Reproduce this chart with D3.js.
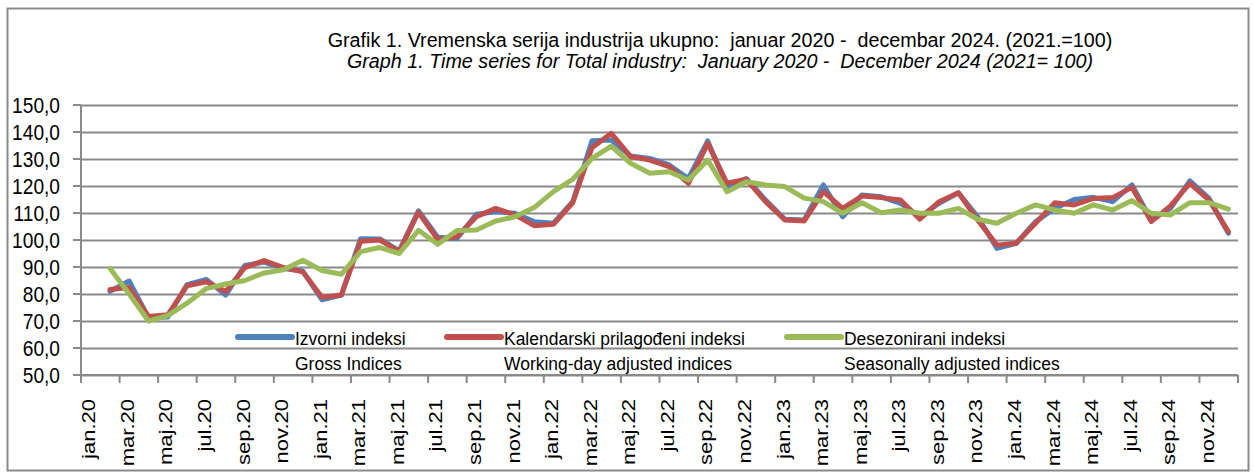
<!DOCTYPE html>
<html>
<head>
<meta charset="utf-8">
<script src="https://cdn.jsdelivr.net/npm/d3@7"></script>
<style>
  body { margin: 0; background: #fff; }
  svg text { font-family: "Liberation Sans", Arial, sans-serif; fill: #000; white-space: pre; }
</style>
</head>
<body>
<svg id="chart" width="1253" height="472"></svg>
<script>
// month labels jan.20 .. dec.24
const monthNames = ['jan', 'feb', 'mar', 'apr', 'maj', 'jun', 'jul', 'avg', 'sep', 'okt', 'nov', 'dec'];
const years = ['20', '21', '22', '23', '24'];
const months = years.flatMap(y => monthNames.map(m => m + '.' + y));

// Izvorni indeksi / Gross indices
const gross = [null, 81.0, 84.8, 71.2, 71.5, 83.5, 85.4, 79.6, 90.6, 91.8, 89.4, 88.5,
  77.8, 79.6, 100.5, 100.4, 96.0, 110.8, 101.0, 100.6, 109.5, 110.5, 109.9, 106.8,
  106.2, 114.2, 136.8, 137.0, 131.1, 130.2, 127.8, 122.8, 136.7, 119.8, 122.8, 114.8,
  107.7, 107.4, 120.4, 108.6, 116.7, 116.0, 113.6, 108.6, 113.6, 117.5, 108.6, 96.9,
  98.8, 106.8, 111.7, 115.0, 115.8, 114.2, 120.4, 107.4, 111.7, 121.9, 115.4, 102.5];

// Kalendarski prilagođeni indeksi / Working-day adjusted
const workingDay = [null, 81.7, 82.4, 71.7, 72.3, 83.0, 84.5, 80.9, 89.8, 92.4, 89.8, 88.2,
  78.8, 79.6, 99.5, 100.0, 95.7, 110.3, 100.2, 101.2, 108.6, 111.7, 109.3, 105.3,
  105.8, 113.8, 134.2, 139.5, 130.9, 129.6, 127.2, 121.0, 135.8, 121.0, 122.5, 114.2,
  107.4, 107.0, 117.9, 111.7, 116.3, 115.7, 114.8, 107.7, 114.2, 117.5, 107.4, 98.1,
  98.8, 106.2, 113.8, 113.0, 115.4, 115.7, 119.5, 106.8, 112.6, 121.0, 114.8, 103.1];

// Desezonirani indeksi / Seasonally adjusted
const seasonal = [null, 89.5, 80.0, 70.0, 72.0, 76.6, 82.0, 83.7, 85.0, 87.8, 89.0, 92.5,
  88.7, 87.3, 95.7, 97.2, 95.0, 103.6, 98.4, 103.5, 103.7, 107.0, 108.6, 112.0,
  117.9, 122.5, 130.2, 134.8, 128.4, 124.7, 125.3, 122.2, 129.6, 117.9, 121.6, 120.4,
  119.8, 115.5, 114.2, 109.9, 113.8, 110.1, 111.1, 109.9, 109.9, 111.7, 107.7, 106.2,
  109.9, 113.0, 111.1, 109.9, 113.0, 111.1, 114.6, 109.9, 109.3, 113.8, 113.8, 111.4];

const yTicks = [50, 60, 70, 80, 90, 100, 110, 120, 130, 140, 150];

const seriesNames = [
  ['Izvorni indeksi', 'Gross Indices'],
  ['Kalendarski prilagođeni indeksi', 'Working-day adjusted indices'],
  ['Desezonirani indeksi', 'Seasonally adjusted indices']
];
const titleLines = [
  'Grafik 1. Vremenska serija industrija ukupno:  januar 2020 -  decembar 2024. (2021.=100)',
  'Graph 1. Time series for Total industry:  January 2020 -  December 2024 (2021= 100)'
];

const colors = ['#4F81BD', '#C0504D', '#9BBB59'];
const gridColor = '#8a8a8a';
const svg = d3.select('#chart');

const plot = { left: 81, right: 1238, top: 105, bottom: 375 };

const x = d3.scaleBand().domain(months).range([plot.left, plot.right]).paddingInner(0).paddingOuter(0);
const y = d3.scaleLinear().domain([50, 150]).range([plot.bottom, plot.top]);
const cx = m => x(m) + x.bandwidth() / 2;
const fmt = d3.formatLocale({ decimal: ',', thousands: '.', grouping: [3], currency: ['', ''] }).format('.1f');

// outer frame
svg.append('rect')
  .attr('x', 7.5).attr('y', 8.5).attr('width', 1241).attr('height', 462)
  .attr('fill', 'none').attr('stroke', gridColor).attr('stroke-width', 2);

// title
svg.append('g').selectAll('text')
  .data(titleLines)
  .join('text')
  .attr('transform', (d, i) => `translate(720,${47 + i * 21}) scale(0.94,1)`)
  .attr('text-anchor', 'middle')
  .style('font-size', '21px')
  .style('font-style', (d, i) => i ? 'italic' : 'normal')
  .text(d => d);

// gridlines + y axis
const yAxis = svg.append('g').attr('transform', `translate(${plot.left},0)`)
  .call(d3.axisLeft(y).tickValues(yTicks).tickSize(-(plot.right - plot.left)).tickSizeOuter(0).tickFormat(''));
yAxis.select('.domain').remove();
yAxis.selectAll('.tick line').attr('stroke', gridColor).attr('stroke-width', 2);
svg.append('g').selectAll('line')
  .data(yTicks)
  .join('line')
  .attr('x1', plot.left - 8).attr('x2', plot.left)
  .attr('y1', d => y(d)).attr('y2', d => y(d))
  .attr('stroke', gridColor).attr('stroke-width', 2);
svg.append('line')
  .attr('x1', plot.left).attr('x2', plot.left)
  .attr('y1', plot.top).attr('y2', plot.bottom)
  .attr('stroke', gridColor).attr('stroke-width', 2);
svg.append('g').selectAll('text')
  .data(yTicks)
  .join('text')
  .attr('transform', d => `translate(60,${y(d) + 8}) scale(0.87,1)`)
  .attr('text-anchor', 'end')
  .style('font-size', '22px')
  .text(d => fmt(d));

// x axis: ticks between categories every 2 months
svg.append('line')
  .attr('x1', plot.left).attr('x2', plot.right)
  .attr('y1', plot.bottom).attr('y2', plot.bottom)
  .attr('stroke', gridColor).attr('stroke-width', 2);
const tickMonths = months.filter((m, i) => i % 2 === 0);
svg.append('g').selectAll('line')
  .data(tickMonths.concat([null]))
  .join('line')
  .attr('x1', d => d ? x(d) : plot.right).attr('x2', d => d ? x(d) : plot.right)
  .attr('y1', plot.bottom).attr('y2', plot.bottom + 8)
  .attr('stroke', gridColor).attr('stroke-width', 2);
svg.append('g').selectAll('text')
  .data(tickMonths)
  .join('text')
  .attr('transform', d => `translate(${cx(d) - 2},399) rotate(-90) scale(1,0.87)`)
  .attr('text-anchor', 'end')
  .attr('dy', '0.35em')
  .style('font-size', '22px')
  .text(d => d);

// series lines
const line = d3.line()
  .defined(d => d.v != null)
  .x(d => cx(d.m))
  .y(d => y(d.v));
[gross, workingDay, seasonal].forEach((vals, k) => {
  svg.append('path')
    .datum(vals.map((v, i) => ({ m: months[i], v: v })))
    .attr('d', line)
    .attr('fill', 'none')
    .attr('stroke', colors[k])
    .attr('stroke-width', 5)
    .attr('stroke-linejoin', 'round')
    .attr('stroke-linecap', 'round');
});

// legend
const legendX = [238, 447, 787];
const legend = svg.append('g').selectAll('g')
  .data(seriesNames)
  .join('g')
  .attr('transform', (d, i) => `translate(${legendX[i]},0)`);
legend.append('line')
  .attr('x1', 0).attr('x2', 54)
  .attr('y1', 337).attr('y2', 337)
  .attr('stroke', (d, i) => colors[i])
  .attr('stroke-width', 6)
  .attr('stroke-linecap', 'round');
legend.selectAll('text')
  .data(d => d)
  .join('text')
  .attr('transform', (d, j) => `translate(57,${345 + j * 25}) scale(0.92,1)`)
  .style('font-size', '19px')
  .text(d => d);
</script>
</body>
</html>
